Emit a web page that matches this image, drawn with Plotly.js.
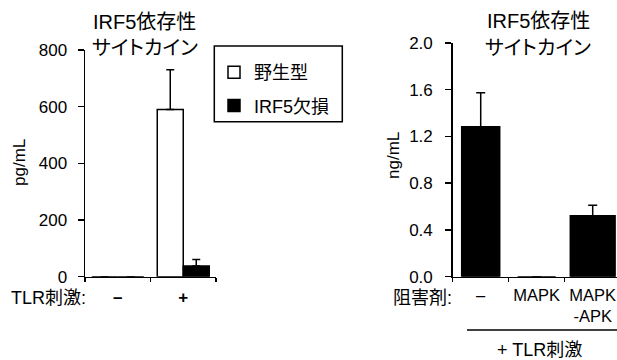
<!DOCTYPE html>
<html>
<head>
<meta charset="utf-8">
<script src="https://cdn.plot.ly/plotly-3.0.1.min.js"></script>
<style>
html,body{margin:0;padding:0;overflow:hidden;background:#fff;}
#chart{width:617px;height:360px;}
text{font-feature-settings:"palt";}
</style>
</head>
<body>
<div id="chart"></div>
<script>
// ---- data ----
const leftCategories = ['–', '+'];
const wildTypeValues = [0, 590];
const wildTypeErr = [0, 140];
const irf5KoValues = [0, 38];
const irf5KoErr = [0, 23];

const rightCategories = ['–', 'MAPK', 'MAPK<br>-APK'];
const inhibitorValues = [1.284, 0, 0.522];
const inhibitorErr = [0.29, 0, 0.09];

const leftTicks = [0, 200, 400, 600, 800];
const rightTicks = [0, 0.4, 0.8, 1.2, 1.6, 2.0];
const rightTickText = ['0.0', '0.4', '0.8', '1.2', '1.6', '2.0'];

const legendNames = ['野生型', 'IRF5欠損'];
const titleLine1 = 'IRF5依存性';
const titleLine2 = 'サイトカイン';

// ---- layout helpers ----
const W = 617, H = 360;
const px = x => x / W;
const py = y => 1 - y / H;
const FONT = '"Liberation Sans", Arial, "Noto Sans CJK JP", sans-serif';
const zeros = a => a.map(() => 0);

const traces = [
  {
    type: 'bar', name: legendNames[0], x: leftCategories, y: wildTypeValues,
    xaxis: 'x', yaxis: 'y', legendgroup: 'a',
    offset: -0.397, width: 0.397,
    marker: {color: '#ffffff', line: {color: '#000', width: 1.5}},
    error_y: {type: 'data', array: wildTypeErr, arrayminus: zeros(wildTypeErr), symmetric: false,
      color: '#000', thickness: 1.5, width: 4}
  },
  {
    type: 'bar', name: legendNames[1], x: leftCategories, y: irf5KoValues,
    xaxis: 'x', yaxis: 'y', legendgroup: 'b',
    offset: 0, width: 0.397,
    marker: {color: '#000000', line: {color: '#000', width: 1.5}},
    error_y: {type: 'data', array: irf5KoErr, arrayminus: zeros(irf5KoErr), symmetric: false,
      color: '#000', thickness: 1.5, width: 4}
  },
  {
    type: 'bar', x: rightCategories, y: inhibitorValues, showlegend: false,
    xaxis: 'x2', yaxis: 'y2',
    width: [0.679, 0.679, 0.8],
    marker: {color: '#000000', line: {color: '#000', width: 1.5}},
    error_y: {type: 'data', array: inhibitorErr, arrayminus: zeros(inhibitorErr), symmetric: false,
      color: '#000', thickness: 1.5, width: 4.5}
  }
];

const axisCommon = {
  showline: true, linecolor: '#000', linewidth: 1.5, showgrid: false, zeroline: false,
  ticks: 'outside', tickcolor: '#000', tickwidth: 1.5, automargin: false, fixedrange: true
};

const layout = {
  width: W, height: H,
  margin: {l: 0, r: 0, t: 0, b: 0},
  paper_bgcolor: '#fff', plot_bgcolor: 'rgba(0,0,0,0)',
  font: {family: FONT, color: '#000', size: 17},
  barmode: 'overlay',
  showlegend: true,
  legend: {
    x: px(214), y: py(54), xanchor: 'left', yanchor: 'top',
    bgcolor: 'rgba(0,0,0,0)', borderwidth: 0,
    font: {family: FONT, size: 18, color: '#000'},
    tracegroupgap: 7, traceorder: 'grouped'
  },
  xaxis: Object.assign({}, axisCommon, {
    domain: [px(85), px(216)], anchor: 'y', type: 'category',
    range: [-0.5, 1.5], tickson: 'boundaries', ticklen: 4, tickangle: 0,
    tickfont: {family: FONT, size: 17, weight: 'bold'}, ticklabelstandoff: 4
  }),
  yaxis: Object.assign({}, axisCommon, {
    domain: [py(276.7), py(50)], anchor: 'x',
    range: [0, 800], tickvals: leftTicks, ticklen: 6,
    tickfont: {family: FONT, size: 17}, ticklabelstandoff: 7
  }),
  xaxis2: Object.assign({}, axisCommon, {
    domain: [px(452.7), 1], anchor: 'y2', type: 'category',
    range: [-0.5, 2.434], tickson: 'boundaries', ticklen: 4, tickangle: 0,
    tickfont: {family: FONT, size: 16.5}, ticklabelstandoff: 3
  }),
  yaxis2: Object.assign({}, axisCommon, {
    domain: [py(276.7), py(43)], anchor: 'x2',
    range: [0, 2.0], tickvals: rightTicks, ticktext: rightTickText, ticklen: 6,
    tickfont: {family: FONT, size: 17}, ticklabelstandoff: 9
  }),
  shapes: [
    {type: 'rect', xref: 'paper', yref: 'paper', x0: px(214.3), x1: px(342.3), y0: py(121.7), y1: py(46),
      line: {color: '#000', width: 1.5}, fillcolor: 'rgba(0,0,0,0)'},
    {type: 'line', xref: 'paper', yref: 'paper', x0: px(467), x1: px(617), y0: py(330), y1: py(330),
      line: {color: '#000', width: 1.5}}
  ],
  annotations: [
    {text: titleLine1, x: px(144.5), y: py(22), font: {size: 20}},
    {text: titleLine2, x: px(145), y: py(48), font: {size: 20}},
    {text: titleLine1, x: px(538), y: py(21), font: {size: 20}},
    {text: titleLine2, x: px(538), y: py(48), font: {size: 20}},
    {text: 'pg/mL', x: px(20), y: py(163), textangle: -90, font: {size: 17}},
    {text: 'ng/mL', x: px(393), y: py(156), textangle: -90, font: {size: 17}},
    {text: 'TLR刺激:', x: px(88), y: py(298), xanchor: 'right', font: {size: 18}},
    {text: '阻害剤:', x: px(454), y: py(298), xanchor: 'right', font: {size: 18}},
    {text: '+ TLR刺激', x: px(539), y: py(350), font: {size: 18}}
  ].map(a => Object.assign({xref: 'paper', yref: 'paper', showarrow: false,
    xanchor: 'center', yanchor: 'middle'}, a, {font: Object.assign({family: FONT, color: '#000'}, a.font)}))
};

Plotly.newPlot('chart', traces, layout, {displayModeBar: false, staticPlot: true});
</script>
</body>
</html>
